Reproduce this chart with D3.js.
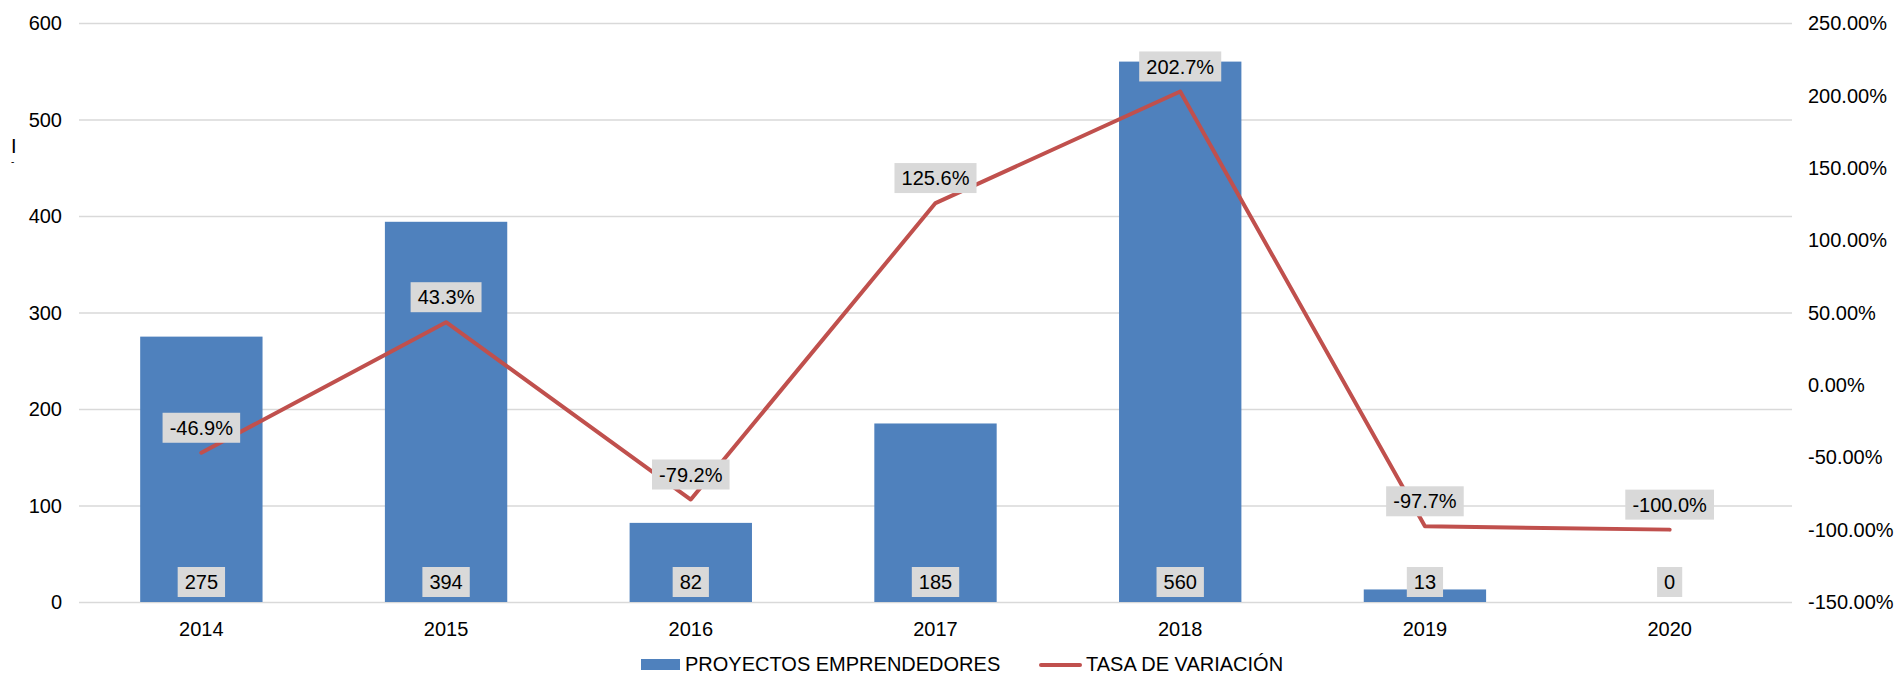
<!DOCTYPE html>
<html>
<head>
<meta charset="utf-8">
<script src="https://cdn.jsdelivr.net/npm/d3@7"></script>
<style>
  html, body { margin: 0; padding: 0; background: #fff; }
  svg { display: block; font-family: "Liberation Sans", Arial, sans-serif; }
</style>
</head>
<body>
<svg id="chart" width="1897" height="675"></svg>
<script>
const years = ["2014", "2015", "2016", "2017", "2018", "2019", "2020"];
const proyectos = [275, 394, 82, 185, 560, 13, 0];
const tasa = [-46.9, 43.3, -79.2, 125.6, 202.7, -97.7, -100.0];
const leftTicks = [0, 100, 200, 300, 400, 500, 600];
const rightTicks = [-150, -100, -50, 0, 50, 100, 150, 200, 250];
const seriesNames = ["PROYECTOS EMPRENDEDORES", "TASA DE VARIACIÓN"];

const barColor = "#4f81bd";
const lineColor = "#c0504d";
const gridColor = "#d9d9d9";
const labelBg = "#d9d9d9";
const fontSize = 20;

const svg = d3.select("#chart");

const x = d3.scaleBand().domain(years).range([79, 1792]).paddingInner(0.5).paddingOuter(0.25);
const yL = d3.scaleLinear().domain([0, 600]).range([602, 23]);
const yR = d3.scaleLinear().domain([-150, 250]).range([602, 23]);

// grid
svg.append("g").selectAll("line").data(leftTicks).join("line")
  .attr("x1", 79).attr("x2", 1792)
  .attr("y1", d => yL(d) + 0.5).attr("y2", d => yL(d) + 0.5)
  .attr("stroke", gridColor).attr("stroke-width", 1.5);

// left axis labels
svg.append("g").selectAll("text").data(leftTicks).join("text")
  .attr("x", 62).attr("y", d => yL(d)).attr("dy", "0.36em")
  .attr("text-anchor", "end").attr("font-size", fontSize).attr("fill", "#000")
  .text(d => d);

// right axis labels
svg.append("g").selectAll("text").data(rightTicks).join("text")
  .attr("x", 1808).attr("y", d => yR(d)).attr("dy", "0.36em")
  .attr("text-anchor", "start").attr("font-size", fontSize).attr("fill", "#000")
  .text(d => d.toFixed(2) + "%");

// category labels
svg.append("g").selectAll("text").data(years).join("text")
  .attr("x", d => x(d) + x.bandwidth() / 2).attr("y", 636)
  .attr("text-anchor", "middle").attr("font-size", fontSize).attr("fill", "#000")
  .text(d => d);

// stray clipped title mark at left
svg.append("text").attr("x", 11).attr("y", 153).attr("font-size", 20).attr("fill", "#000").text("I");
svg.append("text").attr("x", 11).attr("y", 165).attr("font-size", 10).attr("fill", "#000").text("-");

// bars
svg.append("g").selectAll("rect").data(years).join("rect")
  .attr("x", d => x(d)).attr("width", x.bandwidth())
  .attr("y", (d, i) => yL(proyectos[i]))
  .attr("height", (d, i) => yL(0) - yL(proyectos[i]))
  .attr("fill", barColor);

// line
const line = d3.line()
  .x((d, i) => x(years[i]) + x.bandwidth() / 2)
  .y(d => yR(d));
svg.append("path").datum(tasa)
  .attr("d", line).attr("fill", "none")
  .attr("stroke", lineColor).attr("stroke-width", 4)
  .attr("stroke-linejoin", "round").attr("stroke-linecap", "round");

// label helper
function boxLabel(g, cx, cyBottom, txt) {
  const t = g.append("text")
    .attr("x", cx).attr("y", cyBottom - 15).attr("dy", "0.36em")
    .attr("text-anchor", "middle").attr("font-size", fontSize).attr("fill", "#000")
    .text(txt);
  const bb = t.node().getBBox();
  g.insert("rect", "text")
    .attr("x", cx - bb.width / 2 - 7).attr("width", bb.width + 14)
    .attr("y", cyBottom - 30).attr("height", 30)
    .attr("fill", labelBg);
}

// bar labels
years.forEach((yr, i) => {
  const g = svg.append("g");
  boxLabel(g, x(yr) + x.bandwidth() / 2, yL(0) - 5, String(proyectos[i]));
});

// line labels
years.forEach((yr, i) => {
  const g = svg.append("g");
  boxLabel(g, x(yr) + x.bandwidth() / 2, yR(tasa[i]) - 10, tasa[i].toFixed(1) + "%");
});

// legend
const lg = svg.append("g");
lg.append("rect").attr("x", 641).attr("y", 659).attr("width", 39).attr("height", 11).attr("fill", barColor);
lg.append("text").attr("x", 685).attr("y", 664).attr("dy", "0.36em").attr("font-size", fontSize).attr("fill", "#000").text(seriesNames[0]);
lg.append("line").attr("x1", 1041).attr("x2", 1080).attr("y1", 665).attr("y2", 665)
  .attr("stroke", lineColor).attr("stroke-width", 4).attr("stroke-linecap", "round");
lg.append("text").attr("x", 1086).attr("y", 664).attr("dy", "0.36em").attr("font-size", fontSize).attr("fill", "#000").text(seriesNames[1]);
</script>
</body>
</html>
